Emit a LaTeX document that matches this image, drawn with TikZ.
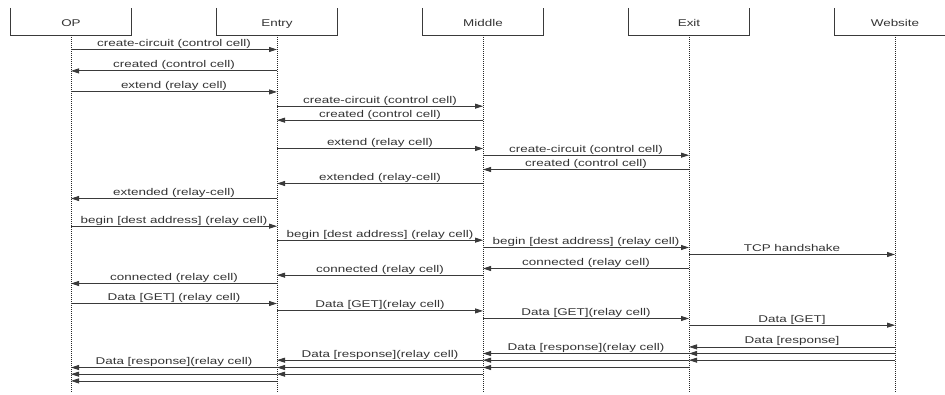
\documentclass[tikz,border=0pt]{standalone}
\usepackage{fontspec}
\setmainfont[FakeStretch=1.37]{Liberation Sans}
\usetikzlibrary{arrows.meta}
\definecolor{ink}{HTML}{333333}
\definecolor{wire}{HTML}{3A3A3A}
\tikzset{
  hdr/.style={minimum width=120pt, minimum height=27pt, inner sep=0pt, text=ink,
    text height=10.6pt, text depth=0pt,
    font=\fontsize{9.8pt}{11pt}\selectfont},
  boxline/.style={draw=wire, line width=0.9pt},
  life/.style={draw=black!85, line width=1pt, dash pattern=on 1pt off 1pt},
  msgline/.style={draw=wire, line width=0.8pt, -{Triangle[length=8pt,width=5pt]}},
  lbl/.style={anchor=base, yshift=3pt, inner sep=0pt, text=ink,
    font=\fontsize{9.8pt}{11pt}\selectfont}
}
\newcommand\msg[4]{\draw[msgline] ([yshift=-#3pt]#1.south) -- node[lbl]{#4} ([yshift=-#3pt]#2.south);}
\begin{document}
\begin{tikzpicture}[x=1pt, y=-1pt]
\useasboundingbox (0,0) rectangle (945,395);
% participants
\node[hdr] (op) at (71,21.5) {OP};
\node[hdr] (entry) at (277,21.5) {Entry};
\node[hdr] (middle) at (483,21.5) {Middle};
\node[hdr] (exit) at (689,21.5) {Exit};
\node[hdr] (web) at (895,21.5) {Website};
\foreach \n in {op,entry,middle,exit,web}{
  \draw[boxline] (\n.north west) |- (\n.south east) -- (\n.north east);
}
% lifelines
\coordinate (opEnd) at (71,393);
\coordinate (entryEnd) at (277,393);
\coordinate (middleEnd) at (483,393);
\coordinate (exitEnd) at (689,393);
\coordinate (webEnd) at (895,393);
\draw[life] (op.south) -- (opEnd);
\draw[life] (entry.south) -- (entryEnd);
\draw[life] (middle.south) -- (middleEnd);
\draw[life] (exit.south) -- (exitEnd);
\draw[life] (web.south) -- (webEnd);
% messages
\msg{op}{entry}{14.3}{create-circuit (control cell)}
\msg{entry}{op}{35.7}{created (control cell)}
\msg{op}{entry}{56.7}{extend (relay cell)}
\msg{entry}{middle}{71}{create-circuit (control cell)}
\msg{middle}{entry}{85}{created (control cell)}
\msg{entry}{middle}{113.3}{extend (relay cell)}
\msg{middle}{exit}{120}{create-circuit (control cell)}
\msg{exit}{middle}{134.3}{created (control cell)}
\msg{middle}{entry}{148.3}{extended (relay-cell)}
\msg{entry}{op}{163.3}{extended (relay-cell)}
\msg{op}{entry}{191}{begin [dest address] (relay cell)}
\msg{entry}{middle}{205}{begin [dest address] (relay cell)}
\msg{middle}{exit}{212.3}{begin [dest address] (relay cell)}
\msg{exit}{web}{219.3}{TCP handshake}
\msg{exit}{middle}{233.3}{connected (relay cell)}
\msg{middle}{entry}{240}{connected (relay cell)}
\msg{entry}{op}{248.3}{connected (relay cell)}
\msg{op}{entry}{268.3}{Data [GET] (relay cell)}
\msg{entry}{middle}{275.7}{Data [GET](relay cell)}
\msg{middle}{exit}{283.3}{Data [GET](relay cell)}
\msg{exit}{web}{290}{Data [GET]}
\msg{web}{exit}{311.7}{Data [response]}
\msg{web}{exit}{318.3}{}
\msg{web}{exit}{325}{}
\msg{exit}{middle}{318.3}{Data [response](relay cell)}
\msg{exit}{middle}{325}{}
\msg{exit}{middle}{332.3}{}
\msg{middle}{entry}{325}{Data [response](relay cell)}
\msg{middle}{entry}{332.3}{}
\msg{middle}{entry}{339}{}
\msg{entry}{op}{332.3}{Data [response](relay cell)}
\msg{entry}{op}{339}{}
\msg{entry}{op}{345.7}{}
\end{tikzpicture}
\end{document}
